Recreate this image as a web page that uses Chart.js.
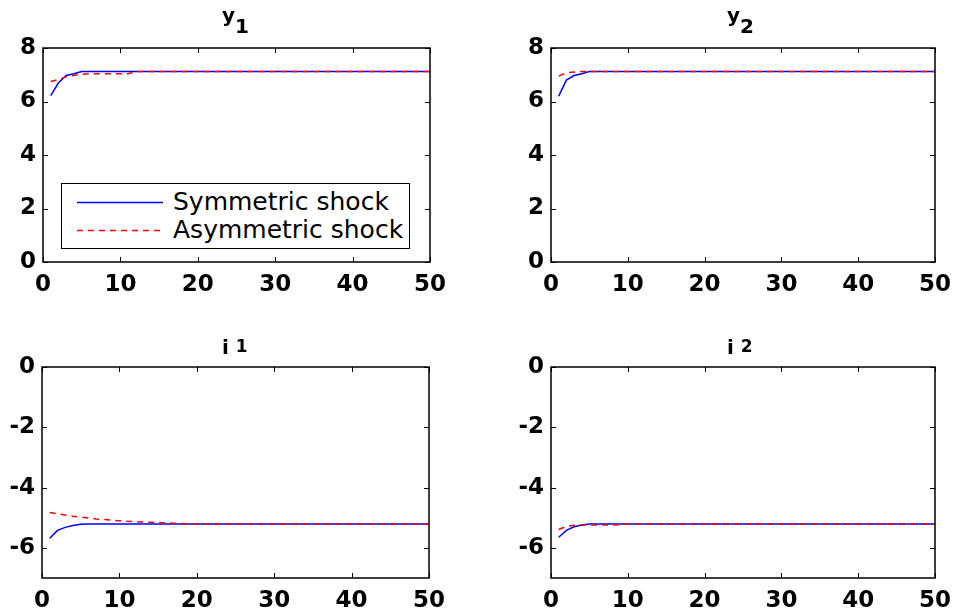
<!DOCTYPE html>
<html>
<head>
<meta charset="utf-8">
<script src="https://cdn.jsdelivr.net/npm/chart.js@4.4.1/dist/chart.umd.min.js"></script>
<style>
  body { margin: 0; background: #fff; width: 955px; height: 612px; position: relative; overflow: hidden; font-family: "DejaVu Sans", sans-serif; }
  canvas { position: absolute; }
  .title { position: absolute; font-weight: bold; font-size: 20px; line-height: 20px; white-space: nowrap; }
  .title .s { position: relative; }
  #legend { position: absolute; left: 61px; top: 183px; width: 347px; height: 64px; border: 1px solid #000; background: #fff; }
  .row { position: absolute; left: 0; height: 28px; font-size: 25px; line-height: 28px; white-space: nowrap; }
  .row svg { position: absolute; left: 15px; top: 13px; }
  .row span { position: absolute; left: 111px; top: 0; }
</style>
</head>
<body>
<canvas id="c1" width="478" height="306" style="left:0;top:0"></canvas>
<canvas id="c2" width="477" height="306" style="left:478px;top:0"></canvas>
<canvas id="c3" width="478" height="306" style="left:0;top:306px"></canvas>
<canvas id="c4" width="477" height="306" style="left:478px;top:306px"></canvas>

<div class="title" style="left:222px;top:5px">y<span class="s" style="top:11px">1</span></div>
<div class="title" style="left:727px;top:5px">y<span class="s" style="top:11px">2</span></div>
<div class="title" style="left:222px;top:337px">i <span class="s" style="font-size:17px;top:-2px">1</span></div>
<div class="title" style="left:727px;top:337px">i <span class="s" style="font-size:17px;top:-2px">2</span></div>

<div id="legend"></div>

<script>
const seriesNames = ["Symmetric shock", "Asymmetric shock"];

const periods = [
  1, 2, 3, 4, 5, 6, 7, 8, 9, 10,
  11, 12, 13, 14, 15, 16, 17, 18, 19, 20,
  21, 22, 23, 24, 25, 26, 27, 28, 29, 30,
  31, 32, 33, 34, 35, 36, 37, 38, 39, 40,
  41, 42, 43, 44, 45, 46, 47, 48, 49, 50
];

const y1Sym = [
  6.22, 6.70, 6.97, 7.04, 7.12, 7.12, 7.12, 7.12, 7.12, 7.12,
  7.12, 7.12, 7.12, 7.12, 7.12, 7.12, 7.12, 7.12, 7.12, 7.12,
  7.12, 7.12, 7.12, 7.12, 7.12, 7.12, 7.12, 7.12, 7.12, 7.12,
  7.12, 7.12, 7.12, 7.12, 7.12, 7.12, 7.12, 7.12, 7.12, 7.12,
  7.12, 7.12, 7.12, 7.12, 7.12, 7.12, 7.12, 7.12, 7.12, 7.12
];
const y1Asym = [
  6.75, 6.82, 6.92, 6.98, 7.02, 7.04, 7.04, 7.04, 7.04, 7.04,
  7.04, 7.12, 7.12, 7.12, 7.12, 7.12, 7.12, 7.12, 7.12, 7.12,
  7.12, 7.12, 7.12, 7.12, 7.12, 7.12, 7.12, 7.12, 7.12, 7.12,
  7.12, 7.12, 7.12, 7.12, 7.12, 7.12, 7.12, 7.12, 7.12, 7.12,
  7.12, 7.12, 7.12, 7.12, 7.12, 7.12, 7.12, 7.12, 7.12, 7.12
];
const y2Sym = [
  6.20, 6.80, 6.97, 7.04, 7.12, 7.12, 7.12, 7.12, 7.12, 7.12,
  7.12, 7.12, 7.12, 7.12, 7.12, 7.12, 7.12, 7.12, 7.12, 7.12,
  7.12, 7.12, 7.12, 7.12, 7.12, 7.12, 7.12, 7.12, 7.12, 7.12,
  7.12, 7.12, 7.12, 7.12, 7.12, 7.12, 7.12, 7.12, 7.12, 7.12,
  7.12, 7.12, 7.12, 7.12, 7.12, 7.12, 7.12, 7.12, 7.12, 7.12
];
const y2Asym = [
  6.95, 7.07, 7.10, 7.12, 7.12, 7.12, 7.12, 7.12, 7.12, 7.12,
  7.12, 7.12, 7.12, 7.12, 7.12, 7.12, 7.12, 7.12, 7.12, 7.12,
  7.12, 7.12, 7.12, 7.12, 7.12, 7.12, 7.12, 7.12, 7.12, 7.12,
  7.12, 7.12, 7.12, 7.12, 7.12, 7.12, 7.12, 7.12, 7.12, 7.12,
  7.12, 7.12, 7.12, 7.12, 7.12, 7.12, 7.12, 7.12, 7.12, 7.12
];
const i1Sym = [
  -5.68, -5.42, -5.32, -5.26, -5.22, -5.21, -5.21, -5.21, -5.21, -5.21,
  -5.21, -5.21, -5.21, -5.21, -5.21, -5.21, -5.21, -5.21, -5.21, -5.21,
  -5.21, -5.21, -5.21, -5.21, -5.21, -5.21, -5.21, -5.21, -5.21, -5.21,
  -5.21, -5.21, -5.21, -5.21, -5.21, -5.21, -5.21, -5.21, -5.21, -5.21,
  -5.21, -5.21, -5.21, -5.21, -5.21, -5.21, -5.21, -5.21, -5.21, -5.21
];
const i1Asym = [
  -4.83, -4.87, -4.91, -4.95, -4.98, -5.01, -5.04, -5.06, -5.08, -5.10,
  -5.12, -5.13, -5.14, -5.15, -5.16, -5.17, -5.18, -5.19, -5.20, -5.21,
  -5.21, -5.21, -5.21, -5.21, -5.21, -5.21, -5.21, -5.21, -5.21, -5.21,
  -5.21, -5.21, -5.21, -5.21, -5.21, -5.21, -5.21, -5.21, -5.21, -5.21,
  -5.21, -5.21, -5.21, -5.21, -5.21, -5.21, -5.21, -5.21, -5.21, -5.21
];
const i2Sym = [
  -5.65, -5.42, -5.30, -5.24, -5.21, -5.21, -5.21, -5.21, -5.21, -5.21,
  -5.21, -5.21, -5.21, -5.21, -5.21, -5.21, -5.21, -5.21, -5.21, -5.21,
  -5.21, -5.21, -5.21, -5.21, -5.21, -5.21, -5.21, -5.21, -5.21, -5.21,
  -5.21, -5.21, -5.21, -5.21, -5.21, -5.21, -5.21, -5.21, -5.21, -5.21,
  -5.21, -5.21, -5.21, -5.21, -5.21, -5.21, -5.21, -5.21, -5.21, -5.21
];
const i2Asym = [
  -5.39, -5.29, -5.25, -5.24, -5.24, -5.24, -5.24, -5.24, -5.23, -5.21,
  -5.21, -5.21, -5.21, -5.21, -5.21, -5.21, -5.21, -5.21, -5.21, -5.21,
  -5.21, -5.21, -5.21, -5.21, -5.21, -5.21, -5.21, -5.21, -5.21, -5.21,
  -5.21, -5.21, -5.21, -5.21, -5.21, -5.21, -5.21, -5.21, -5.21, -5.21,
  -5.21, -5.21, -5.21, -5.21, -5.21, -5.21, -5.21, -5.21, -5.21, -5.21
];

const xTicks = [0, 10, 20, 30, 40, 50];
const yTicksTop = [0, 2, 4, 6, 8];
const yTicksBottom = [-6, -4, -2, 0];

Chart.defaults.font.family = "'DejaVu Sans', sans-serif";
Chart.defaults.color = "#000";

// box round the plot plus inward tick marks, matlab style
const frame = {
  id: "frame",
  afterDatasetsDraw(chart) {
    const { ctx, chartArea: a, scales } = chart;
    ctx.save();
    ctx.strokeStyle = "#000";
    ctx.lineWidth = 1.5;
    ctx.strokeRect(a.left, a.top, a.right - a.left, a.bottom - a.top);
    ctx.lineWidth = 1;
    ctx.beginPath();
    scales.x.ticks.forEach(t => {
      const px = Math.round(scales.x.getPixelForValue(t.value)) + 0.5;
      ctx.moveTo(px, a.bottom); ctx.lineTo(px, a.bottom - 5);
      ctx.moveTo(px, a.top); ctx.lineTo(px, a.top + 5);
    });
    scales.y.ticks.forEach(t => {
      const py = Math.round(scales.y.getPixelForValue(t.value)) + 0.5;
      ctx.moveTo(a.left, py); ctx.lineTo(a.left + 5, py);
      ctx.moveTo(a.right, py); ctx.lineTo(a.right - 5, py);
    });
    ctx.stroke();
    ctx.restore();
  }
};

function panel(id, sym, asym, yMin, yMax, yTicks, area, box) {
  const tickFont = { size: 23, weight: "bold" };
  return new Chart(document.getElementById(id), {
    type: "line",
    data: {
      labels: periods,
      datasets: [
        { label: seriesNames[0], data: sym, borderColor: "#0000ff", borderWidth: 1.5, pointRadius: 0, tension: 0, order: 1 },
        { label: seriesNames[1], data: asym, borderColor: "#ff0000", borderWidth: 1.5, borderDash: [6, 5], pointRadius: 0, tension: 0, order: 0 }
      ]
    },
    options: {
      responsive: false,
      animation: false,
      devicePixelRatio: 1,
      layout: { padding: { left: 0, bottom: 0, top: area.t - box.y, right: box.x + box.w - area.r } },
      plugins: { legend: { display: false }, title: { display: false }, tooltip: { enabled: false } },
      scales: {
        x: {
          type: "linear", min: 0, max: 50,
          afterBuildTicks: s => { s.ticks = xTicks.map(v => ({ value: v })); },
          ticks: { font: tickFont, padding: 9, maxRotation: 0, autoSkip: false },
          grid: { display: false, drawTicks: false },
          border: { display: false },
          afterFit: s => { s.height = box.y + box.h - area.b; s.paddingLeft = 0; s.paddingRight = 0; }
        },
        y: {
          min: yMin, max: yMax,
          afterBuildTicks: s => { s.ticks = yTicks.map(v => ({ value: v })); },
          ticks: { font: tickFont, padding: 7 },
          grid: { display: false, drawTicks: false },
          border: { display: false },
          afterFit: s => { s.width = area.l - box.x; s.paddingTop = 0; s.paddingBottom = 0; }
        }
      }
    },
    plugins: [frame]
  });
}

panel("c1", y1Sym, y1Asym, 0, 8, yTicksTop, { l: 43, t: 48, r: 430, b: 262 }, { x: 0, y: 0, w: 478, h: 306 });
panel("c2", y2Sym, y2Asym, 0, 8, yTicksTop, { l: 551, t: 48, r: 935, b: 262 }, { x: 478, y: 0, w: 477, h: 306 });
panel("c3", i1Sym, i1Asym, -7, 0, yTicksBottom, { l: 42, t: 367, r: 429, b: 578 }, { x: 0, y: 306, w: 478, h: 306 });
panel("c4", i2Sym, i2Asym, -7, 0, yTicksBottom, { l: 551, t: 367, r: 935, b: 578 }, { x: 478, y: 306, w: 477, h: 306 });

// legend box in the first panel
const legend = document.getElementById("legend");
const styles = [
  { color: "#0000ff", dash: "" },
  { color: "#ff0000", dash: "6 5" }
];
seriesNames.forEach((name, k) => {
  const row = document.createElement("div");
  row.className = "row";
  row.style.top = (4 + k * 28) + "px";
  row.innerHTML =
    '<svg width="86" height="3"><line x1="0" y1="1.5" x2="86" y2="1.5" stroke="' + styles[k].color +
    '" stroke-width="1.5" stroke-dasharray="' + styles[k].dash + '"/></svg><span>' + name + "</span>";
  legend.appendChild(row);
});
</script>
</body>
</html>
